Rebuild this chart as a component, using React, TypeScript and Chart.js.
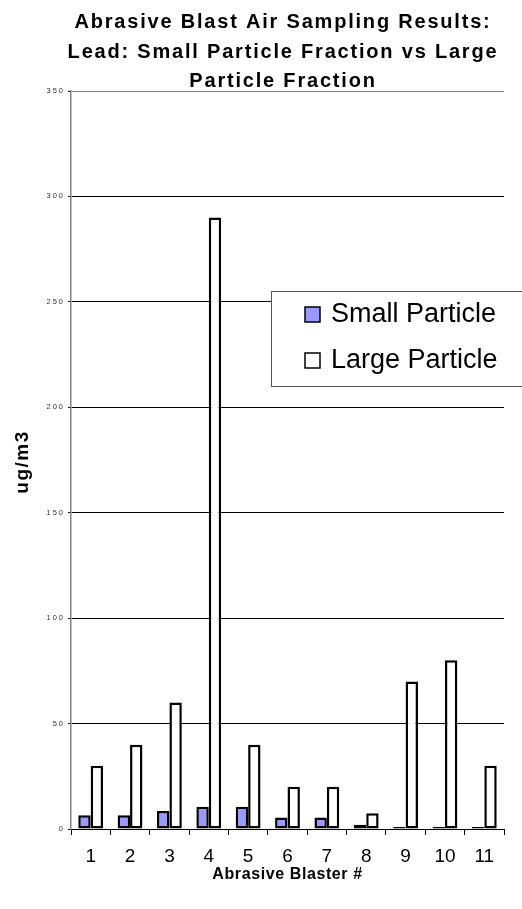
import React, { useEffect, useRef } from "react";
import { Chart, registerables } from "chart.js";

Chart.register(...registerables);

const categories = ["1", "2", "3", "4", "5", "6", "7", "8", "9", "10", "11"];
const smallParticle = [6.5, 6.5, 8.5, 10.5, 10.5, 5.5, 5.5, 2, 1, 1, 1];
const largeParticle = [30, 40, 60, 290, 40, 20, 20, 7.5, 70, 80, 30];
const seriesNames = ["Small Particle", "Large Particle"];
const seriesColors = ["#9999FF", "#FFFFFF"];
const titleLines = [
  "Abrasive Blast Air Sampling Results:",
  "Lead: Small Particle Fraction vs Large",
  "Particle Fraction",
];
const yTitle = "ug/m3";
const xTitle = "Abrasive Blaster #";
const yMin = 0;
const yMax = 350;
const yStep = 50;

const FONT = '"Liberation Sans", Arial, sans-serif';

const textPlugin = {
  id: "refText",
  afterDraw(chart: any) {
    const ctx = chart.ctx as CanvasRenderingContext2D;
    const area = chart.chartArea;
    ctx.save();
    // Title
    ctx.fillStyle = "#000";
    ctx.font = `bold 20px ${FONT}`;
    (ctx as any).letterSpacing = "1.8px";
    ctx.textAlign = "center";
    ctx.textBaseline = "alphabetic";
    titleLines.forEach((line, i) => {
      ctx.fillText(line, 283, 28 + i * 29.5);
    });

    // Y tick labels
    const ys = chart.scales.y;
    ctx.font = `7.5px ${FONT}`;
    (ctx as any).letterSpacing = "2px";
    ctx.fillStyle = "#333";
    ctx.textAlign = "right";
    ctx.textBaseline = "middle";
    ys.ticks.forEach((t: any) => {
      ctx.fillText(String(t.value), area.left - 6, ys.getPixelForValue(t.value));
    });

    // Y title
    ctx.save();
    ctx.translate(23, 462);
    ctx.rotate(-Math.PI / 2);
    ctx.font = `bold 19px ${FONT}`;
    (ctx as any).letterSpacing = "1.5px";
    ctx.fillStyle = "#000";
    ctx.textAlign = "center";
    ctx.textBaseline = "middle";
    ctx.fillText(yTitle, 0, 0);
    ctx.restore();

    // X title
    ctx.font = `bold 16px ${FONT}`;
    (ctx as any).letterSpacing = "0.6px";
    ctx.fillStyle = "#000";
    ctx.textAlign = "center";
    ctx.textBaseline = "alphabetic";
    ctx.fillText(xTitle, (area.left + area.right) / 2, 879);

    // Legend
    (ctx as any).letterSpacing = "0px";
    const bx = 271, by = 291, bw = 260, bh = 95;
    ctx.fillStyle = "#fff";
    ctx.fillRect(bx, by, bw, bh);
    ctx.strokeStyle = "#555";
    ctx.lineWidth = 1;
    ctx.strokeRect(bx + 0.5, by + 0.5, bw, bh);
    chart.data.datasets.forEach((ds: any, i: number) => {
      const my = 307 + i * 46;
      ctx.fillStyle = ds.backgroundColor;
      ctx.fillRect(305, my, 15, 15);
      ctx.strokeStyle = "#000";
      ctx.lineWidth = 1.5;
      ctx.strokeRect(305, my, 15, 15);
      ctx.fillStyle = "#000";
      ctx.font = `27px ${FONT}`;
      ctx.textAlign = "left";
      ctx.textBaseline = "alphabetic";
      ctx.fillText(ds.label, 331, my + 15);
    });
    ctx.restore();
  },
};

export default function App() {
  const ref = useRef<HTMLCanvasElement>(null);
  useEffect(() => {
    if (!ref.current) return;
    const chart = new Chart(ref.current, {
      type: "bar",
      data: {
        labels: categories,
        datasets: [
          {
            label: seriesNames[0],
            data: smallParticle,
            backgroundColor: seriesColors[0],
            borderColor: "#000",
            borderWidth: 2.5,
            borderSkipped: false,
          },
          {
            label: seriesNames[1],
            data: largeParticle,
            backgroundColor: seriesColors[1],
            borderColor: "#000",
            borderWidth: 2.5,
            borderSkipped: false,
          },
        ],
      },
      options: {
        animation: false,
        responsive: true,
        maintainAspectRatio: false,
        layout: { padding: { top: 91, right: 18, left: 0, bottom: 0 } },
        datasets: { bar: { categoryPercentage: 0.63, barPercentage: 1 } },
        plugins: {
          legend: { display: false },
          title: { display: false },
          tooltip: { enabled: false },
        },
        scales: {
          x: {
            offset: true,
            grid: {
              display: true,
              drawOnChartArea: false,
              drawTicks: true,
              tickLength: 6,
              tickColor: "#000",
              offset: true,
            },
            border: { display: true, color: "#000", width: 1 },
            ticks: {
              color: "#000",
              font: { family: FONT, size: 19 },
              padding: 10,
              maxRotation: 0,
              autoSkip: false,
            },
            afterFit: (s: any) => {
              s.height = 80;
            },
          },
          y: {
            min: yMin,
            max: yMax,
            ticks: { stepSize: yStep, display: false },
            grid: {
              color: (c: any) => (c.tick && c.tick.value === yMax ? "#808080" : "#000"),
              lineWidth: 1,
              drawTicks: true,
              tickLength: 3,
              tickColor: "#000",
            },
            border: { display: true, color: "#808080", width: 1.5 },
            afterFit: (s: any) => {
              s.width = 71;
            },
          },
        },
      },
      plugins: [textPlugin],
    });
    return () => chart.destroy();
  }, []);
  return (
    <div style={{ position: "fixed", left: 0, top: 0, width: 522, height: 909 }}>
      <canvas ref={ref} />
    </div>
  );
}
